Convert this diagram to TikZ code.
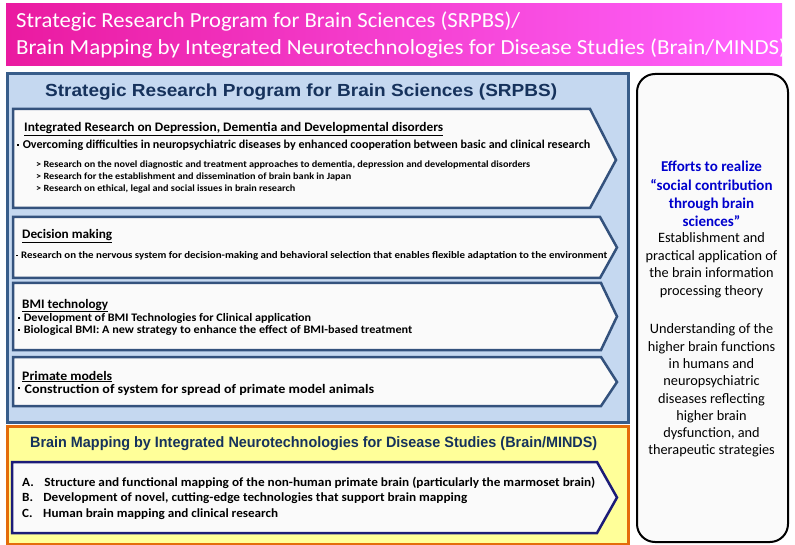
\documentclass[tikz,border=0pt]{standalone}
\usepackage{fontspec}
\setmainfont{Carlito}
\newfontfamily\arialf{Liberation Sans}
\usepackage{graphicx}
\definecolor{banL}{RGB}{234,26,160}
\definecolor{banR}{RGB}{255,100,255}
\definecolor{blueBg}{RGB}{197,216,240}
\definecolor{blueBd}{RGB}{56,93,138}
\definecolor{boxFill}{RGB}{250,250,250}
\definecolor{boxBd}{RGB}{52,82,125}
\definecolor{titleBlue}{RGB}{22,50,92}
\definecolor{yelBg}{RGB}{255,255,153}
\definecolor{yelBd}{RGB}{228,108,10}
\definecolor{navyBd}{RGB}{28,28,120}
\definecolor{effBlue}{RGB}{0,0,205}
\newcommand\fitto[2]{\resizebox{#1pt}{\height}{#2}}
\newcommand\fs[1]{\fontsize{#1}{#1}\selectfont}
\newcommand\bul{\raisebox{0.28em}{\rule{0.16em}{0.16em}}\hspace{0.3em}}
\tikzset{
  txt/.style={inner sep=0pt, anchor=base west},
  ctxt/.style={inner sep=0pt, anchor=base},
  arrowbox/.style={fill=boxFill, draw=boxBd, line width=2.5pt, line join=miter},
  panel/.style={inner sep=0pt, anchor=north west},
}
\begin{document}
\begin{tikzpicture}[x=1pt,y=-1pt]
\useasboundingbox (0,0) rectangle (795,545);
% banner
\node[panel, left color=banL, right color=banR, minimum width=776pt, minimum height=62pt] (banner) at (6,3) {};
\node[txt, text=white] (ban1) at (16,28) {\fs{21.5}\fitto{504}{Strategic Research Program for Brain Sciences (SRPBS)/}};
\node[txt, text=white] (ban2) at (16,55) {\fs{21.5}\fitto{770}{Brain Mapping by Integrated Neurotechnologies for Disease Studies (Brain/MINDS)}};
% SRPBS panel
\node[panel, fill=blueBg, draw=blueBd, line width=3pt, minimum width=621pt, minimum height=349pt] (srpbs) at (6,72) {};
\node[txt, text=titleBlue] (srpbsT) at (45,97) {\arialf\bfseries\fs{17.5}\fitto{512}{Strategic Research Program for Brain Sciences (SRPBS)}};
% arrow boxes
\draw[arrowbox] (13,109) -- (590,109) -- (616,160) -- (590,208) -- (13,208) -- cycle;
\draw[arrowbox] (13,217) -- (600,217) -- (617,247.5) -- (600,278) -- (13,278) -- cycle;
\draw[arrowbox] (13,283) -- (601,283) -- (617,316.5) -- (601,350) -- (13,350) -- cycle;
\draw[arrowbox] (13,357) -- (601,357) -- (617,382) -- (601,406) -- (13,406) -- cycle;
% box 1 text
\node[txt] (h1) at (24,132) {\bfseries\fs{13}\fitto{419}{\underline{Integrated Research on Depression, Dementia and Developmental disorders}}};
\node[txt] (b1) at (17,149) {\bfseries\fs{12}\fitto{573}{\bul Overcoming difficulties in neuropsychiatric diseases by enhanced cooperation between basic and clinical research}};
\node[txt] (s1) at (36,168) {\bfseries\fs{9.5}\fitto{494}{> Research on the novel diagnostic and treatment approaches to dementia, depression and developmental disorders}};
\node[txt] (s2) at (36,180) {\bfseries\fs{9.5}\fitto{315}{> Research for the establishment and dissemination of brain bank in Japan}};
\node[txt] (s3) at (36,192) {\bfseries\fs{9.5}\fitto{259}{> Research on ethical, legal and social issues in brain research}};
% box 2 text
\node[txt] (h2) at (22,239) {\bfseries\fs{13}\fitto{90}{\underline{Decision making}}};
\node[txt] (b2) at (16,259) {\bfseries\fs{10}\fitto{591}{\bul Research on the nervous system for decision-making and behavioral selection that enables flexible adaptation to the environment}};
% box 3 text
\node[txt] (h3) at (22,308) {\bfseries\fs{13}\fitto{86}{\underline{BMI technology}}};
\node[txt] (b3a) at (18,322) {\bfseries\fs{11.5}\fitto{293}{\bul Development of BMI Technologies for Clinical application}};
\node[txt] (b3b) at (18,334) {\bfseries\fs{11.5}\fitto{394}{\bul Biological BMI: A new strategy to enhance the effect of BMI-based treatment}};
% box 4 text
\node[txt] (h4) at (22,380) {\bfseries\fs{13}\fitto{90}{\underline{Primate models}}};
\node[txt] (b4) at (18,393) {\bfseries\fs{13}\fitto{356}{\bul Construction of system for spread of primate model animals}};
% Brain/MINDS panel
\node[panel, fill=yelBg, draw=yelBd, line width=3pt, minimum width=621pt, minimum height=118pt] (minds) at (6,425) {};
\node[txt, text=titleBlue] (mindsT) at (30,447) {\arialf\bfseries\fs{15}\fitto{567}{Brain Mapping by Integrated Neurotechnologies for Disease Studies (Brain/MINDS)}};
\draw[arrowbox, draw=navyBd] (12,462) -- (597,462) -- (617,497.5) -- (597,533) -- (12,533) -- cycle;
\node[txt] (ma) at (22,486) {\bfseries\fs{12.5}\fitto{573}{\makebox[21pt][l]{A.}Structure and functional mapping of the non-human primate brain (particularly the marmoset brain)}};
\node[txt] (mb) at (22,501) {\bfseries\fs{12.5}\fitto{445}{\makebox[20pt][l]{B.}Development of novel, cutting-edge technologies that support brain mapping}};
\node[txt] (mc) at (22,517) {\bfseries\fs{12.5}\fitto{256}{\makebox[20pt][l]{C.}Human brain mapping and clinical research}};
% right panel
\node[panel, fill=boxFill, draw=black, line width=2pt, rounded corners=18pt, minimum width=151pt, minimum height=468pt] (eff) at (636,73) {};
\foreach \t/\y [count=\i] in {{Efforts to realize}/172, {“social contribution}/191, {through brain}/209, {sciences”}/227}
  \node[ctxt, text=effBlue] (e\i) at (711.5,\y) {\bfseries\fs{15}\t};
\foreach \t/\y [count=\i] in {{Establishment and}/243, {practical application of}/261, {the brain information}/278, {processing theory}/295,
  {Understanding of the}/333, {higher brain functions}/351, {in humans and}/368, {neuropsychiatric}/385, {diseases reflecting}/403, {higher brain}/420, {dysfunction, and}/437, {therapeutic strategies}/454}
  \node[ctxt] (r\i) at (711.5,\y) {\fs{14.3}\t};
\end{tikzpicture}
\end{document}
